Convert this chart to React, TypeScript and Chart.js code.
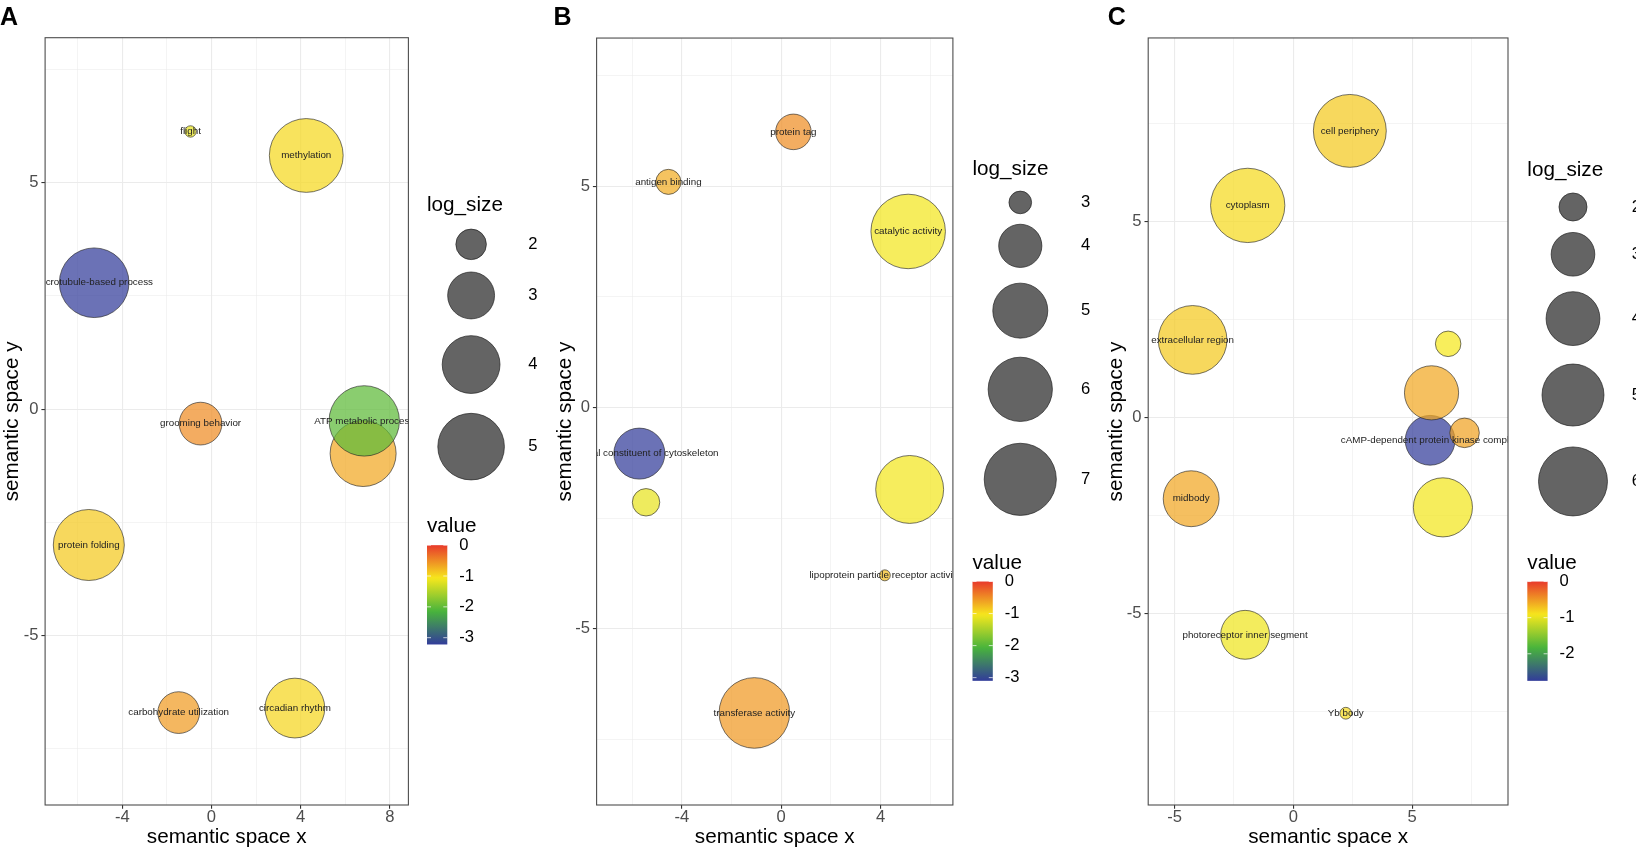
import React, { useEffect, useRef } from 'react';
import { Chart, registerables } from 'chart.js';

Chart.register(...registerables);

const FONT = '"Liberation Sans", Arial, Helvetica, sans-serif';

// ---------------- Panel A (biological process) ----------------
const termsA = ['flight', 'methylation', 'microtubule-based process', 'grooming behavior', '', 'ATP metabolic process', 'protein folding', 'carbohydrate utilization', 'circadian rhythm'];
const xA = [-0.94, 4.25, -5.26, -0.49, 6.8, 6.85, -5.5, -1.47, 3.74];
const yA = [6.13, 5.6, 2.79, -0.32, -0.98, -0.26, -3.0, -6.7, -6.6];
const sizeA = [1.59, 5.95, 5.39, 2.69, 4.93, 5.49, 5.57, 2.62, 4.21];
const valueA = [-1.16, -0.98, -3.22, -0.51, -0.68, -2.02, -0.89, -0.6, -0.97];
const xMajorA = [-4, 0, 4, 8];
const xMinorA = [-6, -2, 2, 6];
const yMajorA = [-5, 0, 5];
const yMinorA = [-7.5, -2.5, 2.5, 7.5];
const sizeBreaksA = [2, 3, 4, 5];
const valueBreaksA = [0, -1, -2, -3];

// ---------------- Panel B (molecular function) ----------------
const termsB = ['protein tag', 'antigen binding', 'catalytic activity', 'structural constituent of cytoskeleton', '', '', 'lipoprotein particle receptor activity', 'transferase activity'];
const xB = [0.49, -4.54, 5.11, -5.71, -5.44, 5.17, 4.17, -1.08];
const yB = [6.23, 5.1, 3.98, -1.04, -2.14, -1.85, -3.79, -6.9];
const sizeB = [3.52, 3.07, 7.33, 4.63, 3.15, 6.45, 2.85, 6.8];
const valueB = [-0.5, -0.68, -1.05, -3.1, -1.12, -1.05, -0.78, -0.56];
const xMajorB = [-4, 0, 4];
const xMinorB = [-6, -2, 2, 6];
const yMajorB = [-5, 0, 5];
const yMinorB = [-7.5, -2.5, 2.5, 7.5];
const sizeBreaksB = [3, 4, 5, 6, 7];
const valueBreaksB = [0, -1, -2, -3];

// ---------------- Panel C (cellular component) ----------------
const termsC = ['cell periphery', 'cytoplasm', 'extracellular region', '', 'cAMP-dependent protein kinase complex', '', '', 'midbody', '', 'photoreceptor inner segment', 'Yb body'];
const xC = [2.38, -1.92, -4.24, 6.52, 5.76, 5.82, 7.21, -4.3, 6.3, -2.03, 2.21];
const yC = [7.3, 5.4, 1.97, 1.87, -0.59, 0.62, -0.4, -2.08, -2.3, -5.55, -7.55];
const sizeC = [6.62, 6.85, 5.96, 1.9, 3.57, 4.04, 2.07, 4.24, 4.63, 3.48, 1.65];
const valueC = [-0.76, -0.85, -0.76, -0.92, -2.75, -0.58, -0.55, -0.57, -0.93, -0.96, -0.85];
const xMajorC = [-5, 0, 5];
const xMinorC = [-2.5, 2.5, 7.5];
const yMajorC = [-5, 0, 5];
const yMinorC = [-7.5, -2.5, 2.5, 7.5];
const sizeBreaksC = [2, 3, 4, 5, 6];
const valueBreaksC = [0, -1, -2];

const VALUE_MAX = 0;
const GRAD: number[][] = [
  [50, 60, 154],
  [72, 180, 60],
  [246, 231, 29],
  [232, 58, 43],
];
const BUBBLE_ALPHA = 0.72;

type PanelCfg = {
  letter: string;
  left: number;
  width: number;
  plotLeft: number;
  plotRight: number;
  padLeft: number;
  terms: string[];
  xs: number[];
  ys: number[];
  sizes: number[];
  values: number[];
  xLim: [number, number];
  yLim: [number, number];
  xMajor: number[];
  xMinor: number[];
  yMajor: number[];
  yMinor: number[];
  sizeBreaks: number[];
  valueBreaks: number[];
  sizeRange: [number, number];
  legendLeft: number;
  legendTop: number;
  letterX: number;
};

const PLOT_TOP = 34;
const XAXIS_H = 44;
const H = 849;

const PANELS: PanelCfg[] = [
  {
    letter: 'A', left: 0, width: 545, plotLeft: 45.1, plotRight: 408.4, padLeft: 0,
    terms: termsA, xs: xA, ys: yA, sizes: sizeA, values: valueA,
    xLim: [-7.46, 8.83], yLim: [-8.74, 8.2],
    xMajor: xMajorA, xMinor: xMinorA, yMajor: yMajorA, yMinor: yMinorA,
    sizeBreaks: sizeBreaksA, valueBreaks: valueBreaksA, sizeRange: [5.7, 36.9],
    legendLeft: 427, legendTop: 205.7, letterX: 0,
  },
  {
    letter: 'B', left: 545, width: 555, plotLeft: 51.6, plotRight: 407.9, padLeft: 7.6,
    terms: termsB, xs: xB, ys: yB, sizes: sizeB, values: valueB,
    xLim: [-7.43, 6.91], yLim: [-8.98, 8.35],
    xMajor: xMajorB, xMinor: xMinorB, yMajor: yMajorB, yMinor: yMinorB,
    sizeBreaks: sizeBreaksB, valueBreaks: valueBreaksB, sizeRange: [5.5, 37.25],
    legendLeft: 427.5, legendTop: 169, letterX: 8.4,
  },
  {
    letter: 'C', left: 1100, width: 536, plotLeft: 48.2, plotRight: 408, padLeft: 3.6,
    terms: termsC, xs: xC, ys: yC, sizes: sizeC, values: valueC,
    xLim: [-6.11, 9.04], yLim: [-9.89, 9.67],
    xMajor: xMajorC, xMinor: xMinorC, yMajor: yMajorC, yMinor: yMinorC,
    sizeBreaks: sizeBreaksC, valueBreaks: valueBreaksC, sizeRange: [5.9, 37.15],
    legendLeft: 427.3, legendTop: 170, letterX: 7.8,
  },
];

function makeSizeScale(sizes: number[], range: [number, number]) {
  const lo = Math.min(...sizes);
  const hi = Math.max(...sizes);
  return (v: number) => range[0] + (range[1] - range[0]) * Math.sqrt(Math.max(0, (v - lo) / (hi - lo)));
}

function valueRGB(v: number, vmin: number): number[] {
  let t = (v - vmin) / (VALUE_MAX - vmin);
  t = Math.max(0, Math.min(1, t)) * (GRAD.length - 1);
  const i = Math.min(GRAD.length - 2, Math.floor(t));
  const f = t - i;
  const a = GRAD[i];
  const b = GRAD[i + 1];
  return [0, 1, 2].map((k) => Math.round(a[k] + (b[k] - a[k]) * f));
}

const rgba = (c: number[], a: number) => `rgba(${c[0]},${c[1]},${c[2]},${a})`;

function Panel({ cfg }: { cfg: PanelCfg }) {
  const ref = useRef<HTMLCanvasElement | null>(null);

  useEffect(() => {
    const canvas = ref.current;
    if (!canvas) return;
    const rOf = makeSizeScale(cfg.sizes, cfg.sizeRange);
    const vmin = Math.min(...cfg.values);
    const points = cfg.xs.map((x, i) => ({ x, y: cfg.ys[i], r: rOf(cfg.sizes[i]) }));
    const fills = cfg.values.map((v) => rgba(valueRGB(v, vmin), BUBBLE_ALPHA));

    const isIn = (arr: number[]) => (v: any) => typeof v === 'number' && arr.some((m) => Math.abs(m - v) < 1e-9);
    const xIsMajor = isIn(cfg.xMajor);
    const yIsMajor = isIn(cfg.yMajor);
    const xTicksAll = [...cfg.xMajor, ...cfg.xMinor].sort((a, b) => a - b);
    const yTicksAll = [...cfg.yMajor, ...cfg.yMinor].sort((a, b) => a - b);

    const axis = (isMajor: (v: any) => boolean, all: number[], lim: [number, number]) => ({
      type: 'linear' as const,
      min: lim[0],
      max: lim[1],
      bounds: 'data' as const,
      afterBuildTicks: (scale: any) => {
        scale.ticks = all.map((v) => ({ value: v }));
      },
      border: { display: false },
      grid: {
        color: '#EBEBEB',
        lineWidth: (ctx: any) => (isMajor(ctx.tick?.value) ? 1.1 : 0.55),
        tickColor: (ctx: any) => (isMajor(ctx.tick?.value) ? '#333333' : 'rgba(0,0,0,0)'),
        tickLength: 3.7,
        tickWidth: 1.1,
        drawTicks: true,
        drawOnChartArea: true,
      },
    });

    const decor = {
      id: 'decor' + cfg.letter,
      afterDatasetsDraw(chart: any) {
        const { ctx, chartArea: ca, scales } = chart;
        const xs = scales.x;
        const ys = scales.y;
        ctx.save();
        ctx.beginPath();
        ctx.rect(ca.left, ca.top, ca.right - ca.left, ca.bottom - ca.top);
        ctx.clip();
        ctx.font = `9.8px ${FONT}`;
        ctx.fillStyle = '#222222';
        ctx.textAlign = 'center';
        ctx.textBaseline = 'middle';
        cfg.terms.forEach((t, i) => {
          if (!t) return;
          ctx.fillText(t, xs.getPixelForValue(cfg.xs[i]), ys.getPixelForValue(cfg.ys[i]));
        });
        ctx.restore();
        ctx.save();
        ctx.strokeStyle = '#4d4d4d';
        ctx.lineWidth = 1.1;
        ctx.strokeRect(ca.left, ca.top, ca.right - ca.left, ca.bottom - ca.top);
        ctx.restore();
      },
      afterDraw(chart: any) {
        const { ctx } = chart;
        ctx.save();
        // panel letter
        ctx.font = `bold 25px ${FONT}`;
        ctx.fillStyle = '#000';
        ctx.textAlign = 'left';
        ctx.textBaseline = 'alphabetic';
        ctx.fillText(cfg.letter, cfg.letterX, 24.5);

        const L = cfg.legendLeft;
        // size legend
        ctx.font = `20.7px ${FONT}`;
        ctx.textBaseline = 'middle';
        ctx.fillText('log_size', L, cfg.legendTop);
        const maxR = Math.max(...cfg.sizeBreaks.map(rOf));
        const keyW = 1.325 * 2 * maxR;
        let top = cfg.legendTop + 18.5;
        ctx.font = `16.6px ${FONT}`;
        cfg.sizeBreaks.forEach((b) => {
          const r = rOf(b);
          const h = 1.32 * 2 * r;
          const cy = top + h / 2;
          ctx.beginPath();
          ctx.arc(L + keyW / 2, cy, r, 0, Math.PI * 2);
          ctx.fillStyle = '#646464';
          ctx.fill();
          ctx.lineWidth = 0.8;
          ctx.strokeStyle = 'rgba(30,30,30,0.85)';
          ctx.stroke();
          ctx.fillStyle = '#000';
          ctx.fillText(String(b), L + keyW + 13, cy);
          top += h;
        });

        // colour bar
        const vTitleY = top + 36;
        ctx.font = `20.7px ${FONT}`;
        ctx.fillText('value', L, vTitleY);
        const barTop = vTitleY + 18.6;
        const barH = 99.3;
        const barW = 20.3;
        const g = ctx.createLinearGradient(0, barTop, 0, barTop + barH);
        const N = 40;
        for (let k = 0; k <= N; k++) {
          const v = VALUE_MAX - (k / N) * (VALUE_MAX - vmin);
          g.addColorStop(k / N, rgba(valueRGB(v, vmin), 1));
        }
        ctx.fillStyle = g;
        ctx.fillRect(L, barTop, barW, barH);
        ctx.font = `16.6px ${FONT}`;
        cfg.valueBreaks.forEach((v) => {
          const yy = barTop + ((VALUE_MAX - v) / (VALUE_MAX - vmin)) * barH;
          ctx.strokeStyle = 'rgba(255,255,255,0.7)';
          ctx.lineWidth = 1;
          ctx.beginPath();
          ctx.moveTo(L, yy);
          ctx.lineTo(L + 4, yy);
          ctx.moveTo(L + barW - 4, yy);
          ctx.lineTo(L + barW, yy);
          ctx.stroke();
          ctx.fillStyle = '#000';
          ctx.fillText(String(v), L + barW + 12, yy);
        });
        ctx.restore();
      },
    };

    const chart = new Chart(canvas, {
      type: 'bubble',
      data: {
        datasets: [
          {
            data: points,
            backgroundColor: fills,
            borderColor: 'rgba(40,40,40,0.8)',
            borderWidth: 0.8,
            hoverRadius: 0,
          } as any,
        ],
      },
      options: {
        animation: false,
        responsive: false,
        events: [],
        layout: { padding: { left: cfg.padLeft, right: cfg.width - cfg.plotRight, top: PLOT_TOP, bottom: 0 } },
        plugins: { legend: { display: false }, tooltip: { enabled: false } },
        scales: {
          x: {
            ...axis(xIsMajor, xTicksAll, cfg.xLim),
            position: 'bottom',
            afterFit: (s: any) => {
              s.height = XAXIS_H;
            },
            ticks: {
              autoSkip: false,
              maxRotation: 0,
              minRotation: 0,
              padding: 0.7,
              color: '#4D4D4D',
              font: { family: FONT, size: 16.6, lineHeight: 1 },
              callback: (v: any) => (xIsMajor(v) ? String(v) : ''),
            },
            title: {
              display: true,
              text: 'semantic space x',
              color: '#000',
              font: { family: FONT, size: 20.7 },
              padding: { top: 0, bottom: -1 },
            },
          } as any,
          y: {
            ...axis(yIsMajor, yTicksAll, cfg.yLim),
            position: 'left',
            afterFit: (s: any) => {
              s.width = cfg.plotLeft - cfg.padLeft;
            },
            ticks: {
              autoSkip: false,
              maxRotation: 0,
              minRotation: 0,
              padding: 3,
              color: '#4D4D4D',
              font: { family: FONT, size: 16.6, lineHeight: 1 },
              callback: (v: any) => (yIsMajor(v) ? String(v) : ''),
            },
            title: {
              display: true,
              text: 'semantic space y',
              color: '#000',
              font: { family: FONT, size: 20.7 },
              padding: { top: 0, bottom: 0 },
            },
          } as any,
        },
      },
      plugins: [decor],
    });

    return () => chart.destroy();
  }, [cfg]);

  return (
    <canvas
      ref={ref}
      width={cfg.width}
      height={H}
      style={{ position: 'absolute', left: cfg.left, top: 0, width: cfg.width, height: H }}
    />
  );
}

export default function App() {
  useEffect(() => {
    document.body.style.margin = '0';
    document.body.style.overflow = 'hidden';
  }, []);
  return (
    <div style={{ position: 'absolute', left: 0, top: 0, width: 1636, height: H, overflow: 'hidden', background: '#fff' }}>
      {PANELS.map((p) => (
        <Panel key={p.letter} cfg={p} />
      ))}
    </div>
  );
}
